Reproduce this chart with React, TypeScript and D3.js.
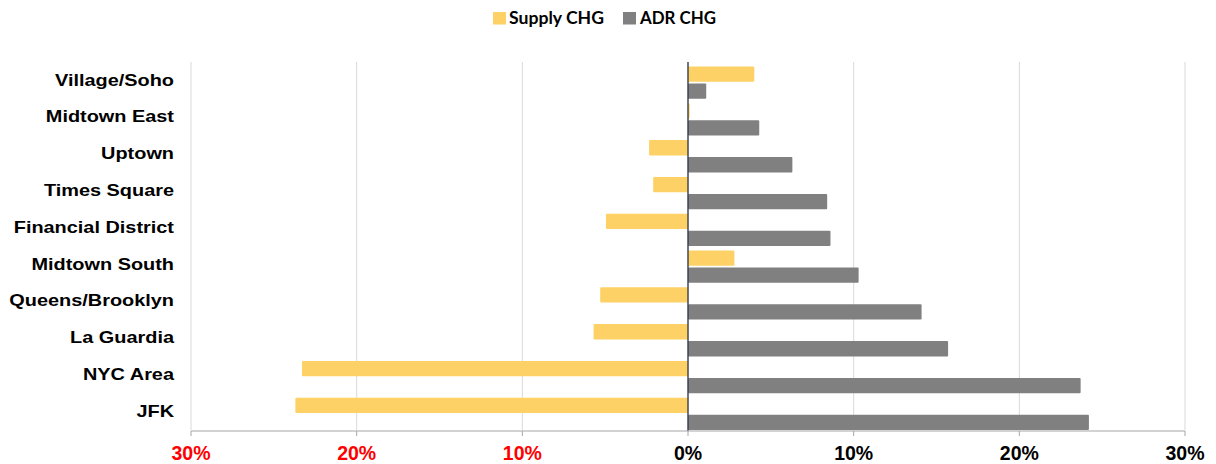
import React from "react";
import * as d3 from "d3";

const categories = [
  "Village/Soho",
  "Midtown East",
  "Uptown",
  "Times Square",
  "Financial District",
  "Midtown South",
  "Queens/Brooklyn",
  "La Guardia",
  "NYC Area",
  "JFK",
];
const supplyChg = [4.0, 0.1, -2.35, -2.1, -4.95, 2.8, -5.3, -5.7, -23.3, -23.7];
const adrChg = [1.1, 4.3, 6.3, 8.4, 8.6, 10.3, 14.1, 15.7, 23.7, 24.2];
const ticks = [-30, -20, -10, 0, 10, 20, 30];
const seriesNames = ["Supply CHG", "ADR CHG"];
const seriesColors = ["#FDD166", "#808080"];

const W = 1216;
const H = 464;
const margin = { left: 191, right: 31, top: 62, bottom: 34 };

export default function App() {
  const x = d3
    .scaleLinear()
    .domain([-30, 30])
    .range([margin.left, W - margin.right]);
  const y = d3
    .scaleBand<string>()
    .domain(categories)
    .range([margin.top, H - margin.bottom])
    .padding(0);
  const sub = d3
    .scaleBand<string>()
    .domain(seriesNames)
    .range([4.5, y.bandwidth()])
    .paddingInner(0.1);
  const series = [supplyChg, adrChg];
  const plotBottom = H - margin.bottom;

  return (
    <svg
      width={W}
      height={H}
      style={{ position: "absolute", left: 0, top: 0, background: "#fff" }}
    >
      {/* gridlines */}
      {ticks.map((t) => (
        <line
          key={"g" + t}
          x1={x(t)}
          x2={x(t)}
          y1={margin.top}
          y2={plotBottom}
          stroke="#d9d9d9"
          strokeWidth={1}
        />
      ))}
      {/* bars */}
      {series.map((vals, si) =>
        vals.map((v, i) => {
          const x0 = x(Math.min(0, v));
          const x1 = x(Math.max(0, v));
          return (
            <rect
              key={si + "-" + i}
              x={x0}
              y={(y(categories[i]) as number) + (sub(seriesNames[si]) as number)}
              width={Math.max(x1 - x0, 0.5)}
              height={sub.bandwidth()}
              fill={seriesColors[si]}
              rx={1}
            />
          );
        })
      )}
      {/* zero line */}
      <line
        x1={x(0)}
        x2={x(0)}
        y1={margin.top}
        y2={plotBottom + 1}
        stroke="#2b3548"
        strokeWidth={1.3}
      />
      {/* bottom axis */}
      <line
        x1={x(-30)}
        x2={x(30)}
        y1={plotBottom + 1}
        y2={plotBottom + 1}
        stroke="#a6a6a6"
        strokeWidth={1}
      />
      {ticks.map((t) => (
        <g key={"t" + t}>
          <line
            x1={x(t)}
            x2={x(t)}
            y1={plotBottom + 1}
            y2={plotBottom + 6}
            stroke="#a6a6a6"
          />
          <text
            x={x(t)}
            y={460}
            textAnchor="middle"
            fontFamily="'Liberation Sans', Arial, sans-serif"
            fontWeight="bold"
            fontSize={19.5}
            fill={t < 0 ? "#ff0000" : "#000"}
          >
            {Math.abs(t) + "%"}
          </text>
        </g>
      ))}
      {/* category labels */}
      <g transform="translate(174,0) scale(1.17,1)">
        {categories.map((c) => (
          <text
            key={"c" + c}
            x={0}
            y={(y(c) as number) + y.bandwidth() / 2 - 1}
            dy="0.36em"
            textAnchor="end"
            fontFamily="'Liberation Sans', Arial, sans-serif"
            fontWeight="bold"
            fontSize={17}
            fill="#000"
          >
            {c}
          </text>
        ))}
      </g>
      {/* legend */}
      <g fontFamily="Lato, 'Open Sans', sans-serif" fontWeight="bold" fontSize={16.5}>
        <rect x={493} y={12} width={13} height={12.5} fill={seriesColors[0]} />
        <text x={509} y={24} fill="#000" textLength={95} lengthAdjust="spacingAndGlyphs">
          {seriesNames[0]}
        </text>
        <rect x={623} y={12} width={13} height={12.5} fill={seriesColors[1]} />
        <text x={640} y={24} fill="#000" textLength={76} lengthAdjust="spacingAndGlyphs">
          {seriesNames[1]}
        </text>
      </g>
    </svg>
  );
}
